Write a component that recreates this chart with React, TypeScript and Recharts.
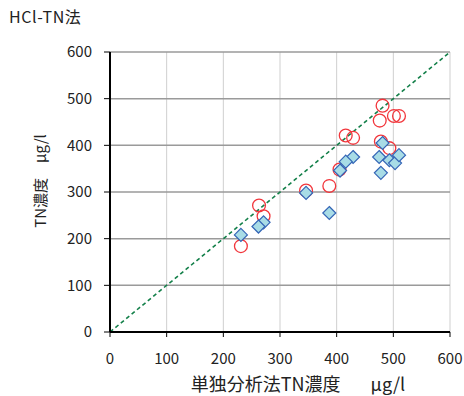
import { ScatterChart, Scatter, XAxis, YAxis, CartesianGrid, ReferenceLine, Label } from 'recharts';

// HCl-TN法 (open red circles): [単独分析法, HCl-TN法]
const hclX = [481, 476, 501, 510, 416, 429, 478, 493, 405, 387, 346, 263, 271, 231];
const hclY = [485, 453, 463, 463, 421, 416, 408, 394, 348, 313, 303, 271, 248, 184];

// second method (blue diamonds)
const otherX = [481, 475, 493, 503, 510, 478, 429, 416, 406, 346, 387, 271, 262, 231];
const otherY = [405, 375, 368, 362, 379, 341, 375, 365, 346, 298, 255, 235, 226, 208];

const ticks = [0, 100, 200, 300, 400, 500, 600];
const identity = [{ x: 0, y: 0 }, { x: 600, y: 600 }];

const hclData = hclX.map((x, i) => ({ x, y: hclY[i] }));
const otherData = otherX.map((x, i) => ({ x, y: otherY[i] }));

const font = '"Noto Sans CJK JP", "Noto Sans", sans-serif';

const OpenCircle = (props: any) => {
    const { cx, cy } = props;
    return <circle cx={cx} cy={cy} r={6.4} fill="none" stroke="#f2363c" strokeWidth={1.3} />;
};

const Diamond = (props: any) => {
    const { cx, cy } = props;
    const r = 6.5;
    return (
        <polygon
            points={`${cx},${cy - r} ${cx + r},${cy} ${cx},${cy + r} ${cx - r},${cy}`}
            fill="#a8dce6"
            stroke="#3465b6"
            strokeWidth={1.2}
        />
    );
};

const XTitle = () => {
    return (
        <text x={298} y={383} textAnchor="middle" dominantBaseline="central" fontSize={18} fill="#222" fontFamily={font}>
            単独分析法TN濃度<tspan dx={30}>μg/l</tspan>
        </text>
    );
};

const YTitle = () => {
    return (
        <text x={39} y={181} transform="rotate(-90 39 181)" textAnchor="middle" dominantBaseline="central" fontSize={15} fill="#222" fontFamily={font}>
            TN濃度　μg/l
        </text>
    );
};

export default function App() {
    return (
        <div style={{ position: 'absolute', left: 0, top: 0, width: 464, height: 396, background: '#fff', fontFamily: font }}>
            <div style={{ position: 'absolute', left: 9, top: 4, fontSize: 16, letterSpacing: 0.6, color: '#222' }}>HCl-TN法</div>
            <ScatterChart width={464} height={396} margin={{ top: 52, right: 14, bottom: 4, left: 0 }}>
                <CartesianGrid horizontal={false} stroke="#cfcfcf" strokeWidth={1} />
                <CartesianGrid vertical={false} stroke="#9a9a9a" strokeWidth={1.5} />
                <XAxis
                    type="number"
                    dataKey="x"
                    domain={[0, 600]}
                    ticks={ticks}
                    height={60}
                    tickSize={5}
                    tickMargin={16}
                    axisLine={{ stroke: '#000', strokeWidth: 2 }}
                    tickLine={{ stroke: '#000' }}
                    tick={{ fill: '#222', fontSize: 15, fontFamily: font }}
                >
                    <Label content={<XTitle />} />
                </XAxis>
                <YAxis
                    type="number"
                    dataKey="y"
                    domain={[0, 600]}
                    ticks={ticks}
                    width={110}
                    tickSize={6}
                    tickMargin={12}
                    axisLine={{ stroke: '#000', strokeWidth: 2 }}
                    tickLine={{ stroke: '#000' }}
                    tick={{ fill: '#222', fontSize: 15, fontFamily: font }}
                >
                    <Label content={<YTitle />} />
                </YAxis>
                <ReferenceLine segment={identity} stroke="#14804a" strokeWidth={1.6} strokeDasharray="4 3" />
                <Scatter data={hclData} shape={<OpenCircle />} isAnimationActive={false} />
                <Scatter data={otherData} shape={<Diamond />} isAnimationActive={false} />
            </ScatterChart>
        </div>
    );
}
